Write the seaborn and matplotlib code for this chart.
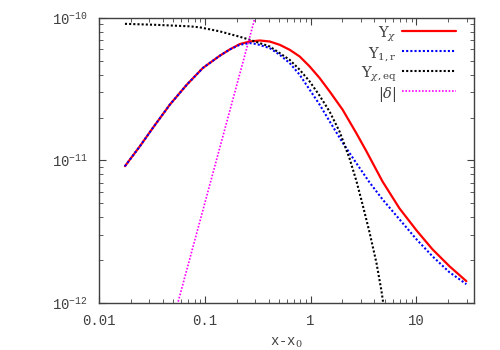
import numpy as np
import matplotlib
matplotlib.use('Agg')
import matplotlib.pyplot as plt
import seaborn as sns
from matplotlib.ticker import LogLocator, NullFormatter

sns.set_style('ticks')
plt.rcParams['font.family'] = ['Liberation Mono', 'DejaVu Sans']
plt.rcParams['mathtext.fontset'] = 'dejavuserif'

# Y_chi (solid red)
x_chi = [0.01759, 0.02436, 0.0323, 0.04674, 0.06762, 0.09575, 0.1385, 0.1721, 0.2139,
         0.2658, 0.3303, 0.4104, 0.5099, 0.6337, 0.7875, 0.9786, 1.216, 1.511, 2.004,
         2.716, 3.376, 4.777, 6.914, 10.0, 14.16, 20.48, 29.64]
y_chi = [9.12e-12, 1.259e-11, 1.693e-11, 2.464e-11, 3.401e-11, 4.449e-11, 5.424e-11, 6.003e-11, 6.547e-11,
         6.827e-11, 6.938e-11, 6.827e-11, 6.474e-11, 5.974e-11, 5.362e-11, 4.564e-11, 3.787e-11, 3.052e-11, 2.273e-11,
         1.545e-11, 1.156e-11, 7.13e-12, 4.615e-12, 3.239e-12, 2.385e-12, 1.815e-12, 1.425e-12]

# Y_1,r (blue dotted)
x_1r = [0.01759, 0.02436, 0.0323, 0.04674, 0.06762, 0.09575, 0.1385, 0.1721, 0.2139,
        0.2658, 0.3095, 0.4104, 0.5099, 0.6337, 0.7875, 0.9786, 1.216, 1.511, 2.004,
        2.716, 3.603, 4.777, 6.914, 10.0, 14.16, 20.48, 29.64]
y_1r = [9.12e-12, 1.259e-11, 1.693e-11, 2.464e-11, 3.401e-11, 4.449e-11, 5.424e-11, 6.003e-11, 6.474e-11,
        6.654e-11, 6.547e-11, 6.14e-11, 5.511e-11, 4.821e-11, 3.993e-11, 3.137e-11, 2.464e-11, 1.883e-11, 1.336e-11,
        9.53e-12, 7.02e-12, 5.34e-12, 3.867e-12, 2.803e-12, 2.131e-12, 1.647e-12, 1.358e-12]

# Y_chi,eq (black dotted)
x_eq = [0.01759, 0.03525, 0.07221, 0.0897, 0.1385, 0.2139, 0.2658, 0.3303, 0.4104, 0.5099,
        0.6337, 0.7875, 0.9786, 1.216, 1.511, 1.877, 2.333, 2.716, 3.094, 3.603,
        4.195, 4.676, 4.884, 4.99]
y_eq = [9.08e-11, 8.93e-11, 8.72e-11, 8.58e-11, 8.04e-11, 7.37e-11, 7.02e-11, 6.654e-11, 6.30e-11, 5.66e-11,
        5.08e-11, 4.33e-11, 3.584e-11, 2.847e-11, 2.202e-11, 1.595e-11, 1.033e-11, 7.13e-12, 4.925e-12, 3.136e-12,
        1.904e-12, 1.213e-12, 9.68e-13, 7.98e-13]

# |delta| (magenta dotted)
x_delta = [0.05, 0.35]
y_delta = [7.5e-13, 1.56e-10]

labels = [r'$\mathrm{Y}_{\chi}$', r'$\mathrm{Y}_{1,\mathrm{r}}$',
          r'$\mathrm{Y}_{\chi,\mathrm{eq}}$', r'$|\delta|$']

fig = plt.figure(figsize=(5, 3.5), dpi=100)
ax = fig.add_axes([0.198, 0.134, 0.750, 0.815])

dot = (0, (1, 1))
sns.lineplot(x=x_chi, y=y_chi, ax=ax, color='#ff0000', lw=1.6, label=labels[0], sort=False)
sns.lineplot(x=x_1r, y=y_1r, ax=ax, color='#0000ff', lw=1.5, ls=dot, label=labels[1], sort=False)
sns.lineplot(x=x_eq, y=y_eq, ax=ax, color='black', lw=1.5, ls=dot, label=labels[2], sort=False)
sns.lineplot(x=x_delta, y=y_delta, ax=ax, color='#ff00ff', lw=1.2, ls=dot, label=labels[3], sort=False)

ax.set_xscale('log')
ax.set_yscale('log')
ax.set_xlim(0.01, 35)
ax.set_ylim(1e-12, 1e-10)

ax.xaxis.set_minor_locator(LogLocator(base=10, subs=np.arange(2, 10), numticks=20))
ax.yaxis.set_minor_locator(LogLocator(base=10, subs=np.arange(2, 10), numticks=20))
ax.xaxis.set_minor_formatter(NullFormatter())
ax.yaxis.set_minor_formatter(NullFormatter())
ax.set_xticks([0.01, 0.1, 1, 10])
ax.set_xticklabels(['0.01', '0.1', '1', '10'])

ax.tick_params(which='both', direction='in', top=True, right=True, colors='#404040',
               labelcolor='#404040', labelsize=10)
ax.tick_params(which='major', length=5, width=0.8, pad=8)
ax.tick_params(which='minor', length=3, width=0.6)
for s in ax.spines.values():
    s.set_color('#404040')
    s.set_linewidth(1.0)

ax.set_xlabel(r'x-x$_0$', color='#404040', fontsize=10, labelpad=5)

leg = ax.legend(loc='upper right', bbox_to_anchor=(0.987, 1.025), frameon=False, markerfirst=False,
                handlelength=3.7, handleheight=1.55, fontsize=10.5, labelspacing=0.0,
                handletextpad=0.35)
for t in leg.get_texts():
    t.set_color('#404040')

fig.savefig('out.png', dpi=100)
